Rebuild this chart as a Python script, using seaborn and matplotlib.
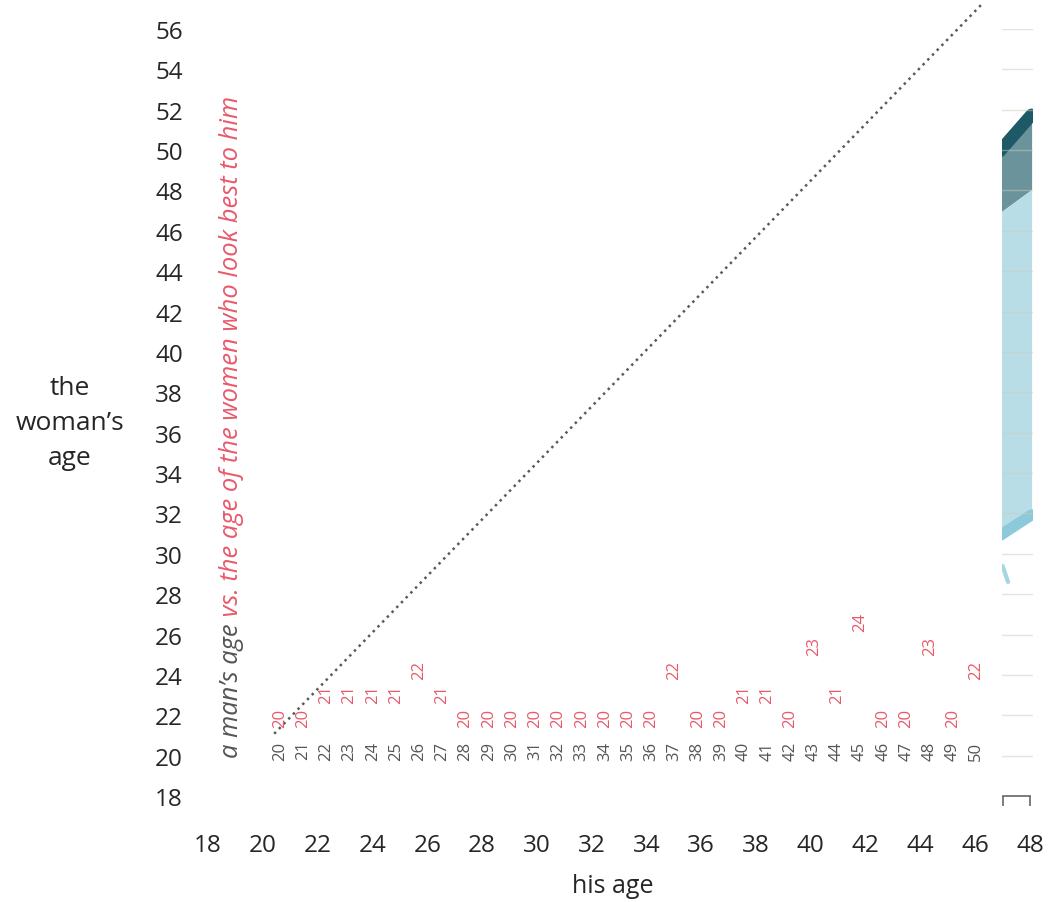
import matplotlib
matplotlib.use("Agg")
import matplotlib.pyplot as plt
from matplotlib.ticker import FixedLocator
import seaborn as sns

# a man's age and the age of the women who look best to him
man_ages = [20, 21, 22, 23, 24, 25, 26, 27, 28, 29, 30, 31, 32, 33, 34, 35,
            36, 37, 38, 39, 40, 41, 42, 43, 44, 45, 46, 47, 48, 49, 50]
woman_ages = [20, 20, 21, 21, 21, 21, 22, 21, 20, 20, 20, 20, 20, 20, 20, 20,
              20, 22, 20, 20, 21, 21, 20, 23, 21, 24, 20, 20, 23, 20, 22]

# axis ticks
x_ticks = [18, 20, 22, 24, 26, 28, 30, 32, 34, 36, 38, 40, 42, 44, 46, 48]
y_ticks = [18, 20, 22, 24, 26, 28, 30, 32, 34, 36, 38, 40, 42, 44, 46, 48,
           50, 52, 54, 56]

# the sliver of the next chart that peeks out on the right
strip_x = [46.9, 48.06]
upper_line = [49.95, 51.75]
mid_edge = [46.9, 48.05]
lower_line = [30.9, 31.93]
streak_x = [47.0, 47.2]
streak_y = [29.4, 28.6]
bracket = [47, 48]

sns.set_theme(style="white")
plt.rcParams["font.family"] = ["Open Sans", "DejaVu Sans"]

fig = plt.figure(figsize=(10.5, 9.03), dpi=100)
rect = [208 / 1050, 106 / 903, (1032.7 - 208) / 1050, 767 / 903]
ax = fig.add_axes(rect)
ax.set_xlim(18, 48.1)
ax.set_ylim(18, 56)

ax.fill_between(strip_x, mid_edge, upper_line, color="#6a939b", lw=0, zorder=1)
ax.fill_between(strip_x, lower_line, mid_edge, color="#b8dde7", lw=0, zorder=1)
sns.lineplot(x=strip_x, y=upper_line, color="#1e5968", linewidth=9, ax=ax,
             solid_capstyle="round")
sns.lineplot(x=strip_x, y=lower_line, color="#8ccadb", linewidth=8, ax=ax)
sns.lineplot(x=streak_x, y=streak_y, color="#a5d6e4", linewidth=3, ax=ax)

ax.grid(True, axis="y", color="#cfcbb9", alpha=0.5, lw=1)
ax.grid(False, axis="x")
ax.set_axisbelow(False)
# white panel hiding the rest of the chart behind
ax.axvspan(18, 46.97, color="white", lw=0, zorder=3)

for s in ["left", "top", "right"]:
    ax.spines[s].set_visible(False)
ax.spines["bottom"].set_bounds(bracket[0], bracket[1])
ax.spines["bottom"].set_color("#666666")
ax.spines["bottom"].set_linewidth(1.2)
ax.spines["bottom"].set_zorder(4)

ax.set_xticks(x_ticks)
ax.set_yticks(y_ticks)
ax.xaxis.remove_overlapping_locs = False
ax.xaxis.set_minor_locator(FixedLocator(bracket))
ax.tick_params(which="major", length=0, labelsize=17.5, labelcolor="#262626")
ax.tick_params(axis="x", which="minor", bottom=True, length=7, width=1.2,
               color="#666666", direction="out")
ax.tick_params(axis="x", which="major", pad=27)
ax.tick_params(axis="y", which="major", pad=18)

ax.set_xlabel("his age", fontsize=18, color="#262626")
ax.xaxis.set_label_coords(0.491, -0.101)
ax.set_ylabel("the\nwoman\u2019s\nage", rotation=0, fontsize=19, color="#262626",
              ha="center", va="center", linespacing=1.55)
ax.yaxis.set_label_coords(-0.1673, 0.487)

# overlay with the age labels
ax2 = fig.add_axes(rect, facecolor="none")
ax2.axis("off")
ax2.set_xlim(16.897, 52.44)
ax2.set_ylim(17.149, 49.21)

diag = [min(man_ages) - 0.25, max(man_ages) + 0.25]
sns.lineplot(x=diag, y=diag, ax=ax2, color="#5a5a5a", linewidth=1.8,
             linestyle=(0, (1, 1.7)), clip_on=False)

for m, w in zip(man_ages, woman_ages):
    ax2.text(m, 19.07, str(m), rotation=90, ha="center", va="center",
             fontsize=12, color="#555555")
    ax2.text(m, w + 0.45, str(w), rotation=90, ha="center", va="center",
             fontsize=12, color="#e8596b")

t1 = fig.text(232 / 1050, 1 - 758 / 903, "a man\u2019s age", rotation=90,
              ha="center", va="bottom", style="italic", fontsize=18.4,
              color="#555555")
ax2.annotate(" vs. the age of the women who look best to him", xy=(0.5, 1),
             xycoords=t1, rotation=90, ha="center", va="bottom",
             style="italic", fontsize=18.4, color="#e8596b",
             annotation_clip=False)

fig.savefig("out.png", dpi=100)
